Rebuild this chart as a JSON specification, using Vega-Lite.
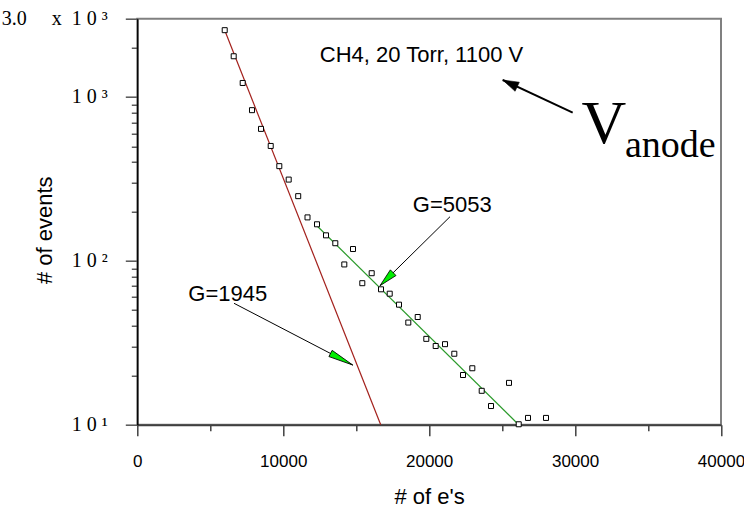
{
  "$schema": "https://vega.github.io/schema/vega-lite/v6.json",
  "width": 583.7,
  "height": 406,
  "autosize": {"type": "none"},
  "padding": {"left": 137.3, "top": 18.7, "right": 23, "bottom": 83.3},
  "background": "white",
  "config": {"view": {"stroke": "#808080", "strokeWidth": 2}},
  "datasets": {
    "events": [
      {"x": 5990, "y": 2553}, {"x": 6606, "y": 1770}, {"x": 7223, "y": 1216}, {"x": 7860, "y": 830},
      {"x": 8477, "y": 638}, {"x": 9142, "y": 502}, {"x": 9731, "y": 378}, {"x": 10375, "y": 313},
      {"x": 11027, "y": 248}, {"x": 11664, "y": 184}, {"x": 12315, "y": 167}, {"x": 12932, "y": 143},
      {"x": 13569, "y": 128}, {"x": 14186, "y": 95}, {"x": 14782, "y": 118}, {"x": 15419, "y": 73},
      {"x": 16063, "y": 84}, {"x": 16701, "y": 67}, {"x": 17297, "y": 63}, {"x": 17934, "y": 54},
      {"x": 18572, "y": 42}, {"x": 19216, "y": 45.4}, {"x": 19805, "y": 33.4}, {"x": 20449, "y": 30.2},
      {"x": 21087, "y": 31}, {"x": 21724, "y": 27.1}, {"x": 22320, "y": 20.1}, {"x": 22958, "y": 22.1},
      {"x": 23602, "y": 16.1}, {"x": 24239, "y": 13}, {"x": 25473, "y": 18}, {"x": 26138, "y": 10.06},
      {"x": 26775, "y": 11}, {"x": 28008, "y": 11}
    ],
    "fit1945": [{"x": 5990, "y": 2553}, {"x": 16680, "y": 10}],
    "fit5053": [{"x": 12360, "y": 162}, {"x": 26138, "y": 10}],
    "arrowsThin": [
      {"x": 6627, "y": 55.05, "x2": 14761, "y2": 23.13},
      {"x": 21429, "y": 185.8, "x2": 16632, "y2": 70.5}
    ],
    "arrowAnode": [{"x": 29838, "y": 801, "x2": 25041, "y2": 1268}],
    "head1945": [{"x": 14761, "y": 23.13}],
    "head5053": [{"x": 16632, "y": 70.5}],
    "headAnode": [{"x": 25041, "y": 1268}],
    "labels": [
      {"x": 6202, "y": 62.5, "t": "G=1945"},
      {"x": 21587, "y": 218.1, "t": "G=5053"},
      {"x": 19476, "y": 1814, "t": "CH4, 20 Torr, 1100 V"}
    ],
    "bigV": [{"x": 31983, "y": 523, "t": "V"}],
    "anode": [{"x": 33420, "y": 429.8, "t": "anode"}]
  },
  "resolve": {"axis": {"x": "independent", "y": "independent"}},
  "layer": [
    {
      "data": {"name": "fit1945"},
      "mark": {"type": "line", "color": "#a3201c", "strokeWidth": 1.2},
      "encoding": {
        "x": {"field": "x", "type": "quantitative",
          "scale": {"domain": [0, 40000], "nice": false, "zero": false},
          "axis": {"orient": "bottom", "values": [5000, 15000, 25000, 35000], "tickSize": 6, "tickColor": "#404040", "tickWidth": 1.5, "labels": false, "domain": false, "grid": false, "title": null}},
        "y": {"field": "y", "type": "quantitative",
          "scale": {"type": "log", "domain": [10, 3000], "nice": false, "zero": false},
          "axis": {"orient": "left", "values": [20, 30, 40, 50, 60, 70, 80, 90, 200, 300, 400, 500, 600, 700, 800, 900, 2000], "tickSize": 6, "tickColor": "#333333", "tickWidth": 1.2, "labels": false, "domain": false, "grid": false, "title": null}}
      }
    },
    {
      "data": {"name": "fit5053"},
      "mark": {"type": "line", "color": "#2a9a2a", "strokeWidth": 1.2},
      "encoding": {
        "x": {"field": "x", "type": "quantitative", "scale": {"domain": [0, 40000], "nice": false, "zero": false}, "axis": null},
        "y": {"field": "y", "type": "quantitative", "scale": {"type": "log", "domain": [10, 3000], "nice": false, "zero": false}, "axis": null}
      }
    },
    {
      "data": {"name": "arrowsThin"},
      "mark": {"type": "rule", "color": "black", "strokeWidth": 1},
      "encoding": {
        "x": {"field": "x", "type": "quantitative", "scale": {"domain": [0, 40000], "nice": false, "zero": false}, "axis": null},
        "y": {"field": "y", "type": "quantitative", "scale": {"type": "log", "domain": [10, 3000], "nice": false, "zero": false}, "axis": null},
        "x2": {"field": "x2"},
        "y2": {"field": "y2"}
      }
    },
    {
      "data": {"name": "arrowAnode"},
      "mark": {"type": "rule", "color": "black", "strokeWidth": 2},
      "encoding": {
        "x": {"field": "x", "type": "quantitative", "scale": {"domain": [0, 40000], "nice": false, "zero": false}, "axis": null},
        "y": {"field": "y", "type": "quantitative", "scale": {"type": "log", "domain": [10, 3000], "nice": false, "zero": false}, "axis": null},
        "x2": {"field": "x2"},
        "y2": {"field": "y2"}
      }
    },
    {
      "data": {"name": "head1945"},
      "mark": {"type": "point", "shape": "M0,0L-2.5,-0.35L-2.5,0.35Z", "size": 400, "angle": 27.5, "filled": true, "fill": "#00ee00", "stroke": "black", "strokeWidth": 0.8, "opacity": 1},
      "encoding": {
        "x": {"field": "x", "type": "quantitative", "scale": {"domain": [0, 40000], "nice": false, "zero": false}, "axis": null},
        "y": {"field": "y", "type": "quantitative", "scale": {"type": "log", "domain": [10, 3000], "nice": false, "zero": false}, "axis": null}
      }
    },
    {
      "data": {"name": "head5053"},
      "mark": {"type": "point", "shape": "M0,0L-1.85,-0.4L-1.85,0.4Z", "size": 400, "angle": 135.4, "filled": true, "fill": "#00ee00", "stroke": "black", "strokeWidth": 0.8, "opacity": 1},
      "encoding": {
        "x": {"field": "x", "type": "quantitative", "scale": {"domain": [0, 40000], "nice": false, "zero": false}, "axis": null},
        "y": {"field": "y", "type": "quantitative", "scale": {"type": "log", "domain": [10, 3000], "nice": false, "zero": false}, "axis": null}
      }
    },
    {
      "data": {"name": "headAnode"},
      "mark": {"type": "point", "shape": "M0,0L-1.6,-0.5L-1.6,0.5Z", "size": 400, "angle": 205, "filled": true, "fill": "black", "stroke": "black", "strokeWidth": 0.5, "opacity": 1},
      "encoding": {
        "x": {"field": "x", "type": "quantitative", "scale": {"domain": [0, 40000], "nice": false, "zero": false}, "axis": null},
        "y": {"field": "y", "type": "quantitative", "scale": {"type": "log", "domain": [10, 3000], "nice": false, "zero": false}, "axis": null}
      }
    },
    {
      "data": {"name": "labels"},
      "mark": {"type": "text", "font": "Liberation Sans", "fontSize": 22, "color": "black", "align": "center", "baseline": "middle"},
      "encoding": {
        "x": {"field": "x", "type": "quantitative", "scale": {"domain": [0, 40000], "nice": false, "zero": false}, "axis": null},
        "y": {"field": "y", "type": "quantitative", "scale": {"type": "log", "domain": [10, 3000], "nice": false, "zero": false}, "axis": null},
        "text": {"field": "t"}
      }
    },
    {
      "data": {"name": "bigV"},
      "mark": {"type": "text", "font": "Liberation Serif", "fontSize": 62, "color": "black", "align": "center", "baseline": "alphabetic"},
      "encoding": {
        "x": {"field": "x", "type": "quantitative", "scale": {"domain": [0, 40000], "nice": false, "zero": false}, "axis": null},
        "y": {"field": "y", "type": "quantitative", "scale": {"type": "log", "domain": [10, 3000], "nice": false, "zero": false}, "axis": null},
        "text": {"field": "t"}
      }
    },
    {
      "data": {"name": "anode"},
      "mark": {"type": "text", "font": "Liberation Serif", "fontSize": 38, "color": "black", "align": "left", "baseline": "alphabetic"},
      "encoding": {
        "x": {"field": "x", "type": "quantitative", "scale": {"domain": [0, 40000], "nice": false, "zero": false}, "axis": null},
        "y": {"field": "y", "type": "quantitative", "scale": {"type": "log", "domain": [10, 3000], "nice": false, "zero": false}, "axis": null},
        "text": {"field": "t"}
      }
    },
    {
      "data": {"name": "events"},
      "mark": {"type": "point", "shape": "square", "size": 25, "filled": false, "fill": "white", "stroke": "black", "strokeWidth": 1, "opacity": 1},
      "encoding": {
        "x": {"field": "x", "type": "quantitative",
          "scale": {"domain": [0, 40000], "nice": false, "zero": false},
          "axis": {"orient": "bottom", "values": [0, 10000, 20000, 30000, 40000], "format": "d", "tickSize": 11, "tickColor": "#404040", "tickWidth": 1.5,
            "domainColor": "#404040", "domainWidth": 2, "grid": false,
            "labelFont": "Liberation Sans", "labelFontSize": 17, "labelColor": "black", "labelBaseline": "alphabetic", "labelPadding": 30.3,
            "labelFlush": false, "labelOverlap": false, "labelBound": false,
            "title": "# of e's", "titleFont": "Liberation Sans", "titleFontSize": 22, "titleFontWeight": "normal", "titleColor": "black",
            "titleBaseline": "alphabetic", "titleY": 78.3}},
        "y": {"field": "y", "type": "quantitative",
          "scale": {"type": "log", "domain": [10, 3000], "nice": false, "zero": false},
          "axis": {"orient": "left", "values": [10, 100, 1000, 3000], "tickSize": 12, "tickColor": "#555555", "tickWidth": 1.5,
            "domainColor": "black", "domainWidth": 1.5, "grid": false,
            "labelExpr": "datum.value >= 3000 ? '3.0\u00a0\u00a0\u00a0\u00a0\u00a0x\u00a0\u00a01 0 ³' : datum.value >= 1000 ? '1 0 ³' : datum.value >= 100 ? '1 0 ²' : '1 0 ¹'",
            "labelFont": "Liberation Serif", "labelFontSize": 20, "labelColor": "black", "labelAlign": "right", "labelBaseline": "middle", "labelPadding": 18,
            "labelFlush": false, "labelOverlap": false, "labelBound": false,
            "title": "# of events", "titleFont": "Liberation Sans", "titleFontSize": 22, "titleFontWeight": "normal", "titleColor": "black",
            "titleAngle": -90, "titleAlign": "center", "titleBaseline": "alphabetic", "titleX": -85.6, "titleY": 211}}
      }
    }
  ]
}
